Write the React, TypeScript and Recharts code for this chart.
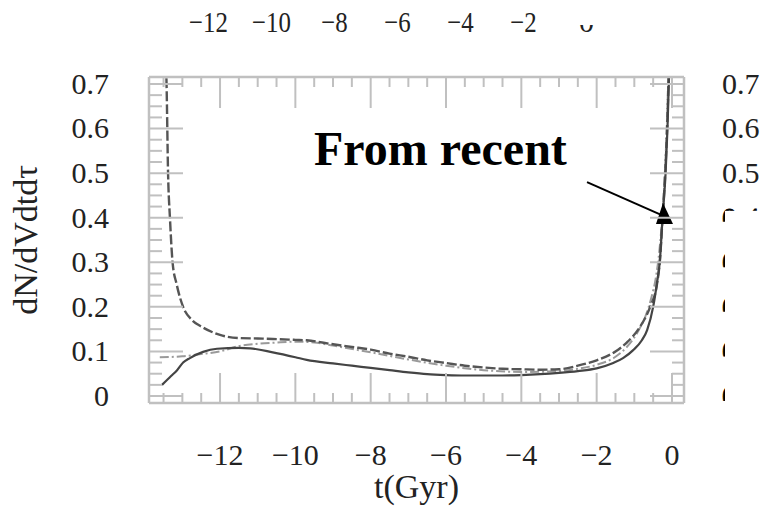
import React from 'react';
import { LineChart, Line, XAxis, YAxis, ReferenceLine, ReferenceDot } from 'recharts';

// ---- data ----
const dashedT = [-13.47, -13.42, -13.38, -13.33, -13.26, -13.15, -12.98, -12.74, -12.48, -12.0, -11.5, -11.0, -10.6, -10.0, -9.7, -9.0, -8.5, -8.0, -7.5, -7.0, -6.5, -6.0, -5.5, -5.0, -4.5, -4.0, -3.5, -3.0, -2.5, -2.0, -1.5, -1.2, -0.85, -0.58, -0.4, -0.32, -0.25, -0.18, -0.13, -0.08];
const dashedV = [0.80, 0.70, 0.50, 0.40, 0.30, 0.25, 0.20, 0.17, 0.155, 0.137, 0.130, 0.129, 0.128, 0.126, 0.125, 0.116, 0.110, 0.104, 0.095, 0.088, 0.080, 0.074, 0.068, 0.064, 0.061, 0.060, 0.059, 0.060, 0.068, 0.080, 0.100, 0.120, 0.155, 0.20, 0.25, 0.305, 0.40, 0.50, 0.60, 0.74];

const solidT = [-13.54, -13.3, -13.14, -12.98, -12.8, -12.45, -12.08, -11.5, -11.2, -10.6, -10.0, -9.7, -9.0, -8.5, -8.0, -7.5, -7.0, -6.5, -6.0, -5.5, -5.0, -4.5, -4.0, -3.5, -3.0, -2.5, -2.0, -1.56, -1.3, -1.03, -0.8, -0.66, -0.5, -0.4, -0.32, -0.25, -0.17, -0.12, -0.07];
const solidV = [0.025, 0.045, 0.058, 0.075, 0.085, 0.099, 0.106, 0.108, 0.107, 0.098, 0.087, 0.081, 0.073, 0.068, 0.063, 0.058, 0.053, 0.049, 0.047, 0.046, 0.046, 0.046, 0.047, 0.049, 0.052, 0.056, 0.062, 0.074, 0.085, 0.103, 0.125, 0.148, 0.20, 0.253, 0.305, 0.40, 0.50, 0.60, 0.74];

const dotT = [-13.6, -13.0, -12.5, -12.0, -11.5, -11.0, -10.5, -10.0, -9.5, -9.0, -8.0, -7.0, -6.0, -5.0, -4.0, -3.0, -2.5, -2.0, -1.5, -1.2, -0.9, -0.7, -0.55, -0.42, -0.33, -0.26, -0.19, -0.14, -0.09];
const dotV = [0.087, 0.089, 0.094, 0.100, 0.112, 0.117, 0.120, 0.122, 0.120, 0.113, 0.098, 0.082, 0.068, 0.058, 0.054, 0.056, 0.061, 0.070, 0.088, 0.110, 0.145, 0.180, 0.220, 0.270, 0.330, 0.400, 0.500, 0.600, 0.740];

const xTicks = [-13.5, -13, -12.5, -12, -11.5, -11, -10.5, -10, -9.5, -9, -8.5, -8, -7.5, -7, -6.5, -6, -5.5, -5, -4.5, -4, -3.5, -3, -2.5, -2, -1.5, -1, -0.5, 0];
const xMajor = [-12, -10, -8, -6, -4, -2, 0];
const xLabels = ['−12', '−10', '−8', '−6', '−4', '−2', '0'];
const topLabelTicks = [-12, -10, -8, -6, -4, -2, 0];
const topLabels = ['−12', '−10', '−8', '−6', '−4', '−2', '0'];

const yTicks = [0, 0.025, 0.05, 0.075, 0.1, 0.125, 0.15, 0.175, 0.2, 0.225, 0.25, 0.275, 0.3, 0.325, 0.35, 0.375, 0.4, 0.425, 0.45, 0.475, 0.5, 0.525, 0.55, 0.575, 0.6, 0.625, 0.65, 0.675, 0.7];
const yMajor = [0, 0.1, 0.2, 0.3, 0.4, 0.5, 0.6, 0.7];
const yLabels = ['0', '0.1', '0.2', '0.3', '0.4', '0.5', '0.6', '0.7'];

const arrowFrom = { t: -2.256, v: 0.48 };
const arrowTo = { t: -0.212, v: 0.4036 };
const noteAt = { t: -9.504, v: 0.518 };
const noteText = 'From recent';

const dashedData = dashedT.map((t, i) => ({ t, v: dashedV[i] }));
const solidData = solidT.map((t, i) => ({ t, v: solidV[i] }));
const dotData = dotT.map((t, i) => ({ t, v: dotV[i] }));

// ---- styles ----
const FRAME = '#c0c0c0';
const FONT = '"Liberation Serif", "Times New Roman", serif';
const TXT = '#222';

const idx = (arr: number[], v: number) => arr.findIndex((m) => Math.abs(m - v) < 1e-6);

const BottomTick = (p: any) => {
  const v = p.payload.value;
  const i = idx(xMajor, v);
  const len = i >= 0 ? 30 : 10;
  return (
    <g>
      <line x1={p.x} x2={p.x} y1={p.y} y2={p.y - len} stroke={FRAME} strokeWidth={2} />
      {i >= 0 && (
        <text x={p.x} y={p.y + 62} textAnchor="middle" fontFamily={FONT} fontSize={30} fill={TXT}>
          {xLabels[i]}
        </text>
      )}
    </g>
  );
};

const TopTick = (p: any) => {
  const v = p.payload.value;
  const i = idx(xMajor, v);
  const len = i >= 0 ? 31 : 10;
  return <line x1={p.x} x2={p.x} y1={77} y2={77 + len} stroke={FRAME} strokeWidth={2} />;
};

const TopLabelTick = (p: any) => {
  const v = p.payload.value;
  const i = idx(topLabelTicks, v);
  if (i < 0) return <g />;
  const isZero = Math.abs(v) < 1e-6;
  const id = `topclip${i}`;
  if (isZero) {
    return (
      <g>
        <defs>
          <clipPath id={id}>
            <rect x={p.x - 15} y={25} width={30} height={12} />
          </clipPath>
        </defs>
        <text x={p.x} y={32} textAnchor="middle" fontFamily={FONT} fontSize={30} fill={TXT} clipPath={`url(#${id})`}>
          {topLabels[i]}
        </text>
      </g>
    );
  }
  return (
    <g transform={`translate(${p.x},32) scale(0.83,1)`}>
      <text x={0} y={0} textAnchor="middle" fontFamily={FONT} fontSize={30} fill={TXT}>
        {topLabels[i]}
      </text>
    </g>
  );
};

const LeftTick = (p: any) => {
  const v = p.payload.value;
  const i = idx(yMajor, v);
  const len = i >= 0 ? 34 : 13;
  return (
    <g>
      <line x1={p.x} x2={p.x + len} y1={p.y} y2={p.y} stroke={FRAME} strokeWidth={2} />
      {i >= 0 && (
        <text x={p.x - 40} y={p.y} dy="0.33em" textAnchor="end" fontFamily={FONT} fontSize={30} fill={TXT}>
          {yLabels[i]}
        </text>
      )}
    </g>
  );
};

const RightTick = (p: any) => {
  const v = p.payload.value;
  const i = idx(yMajor, v);
  const len = i >= 0 ? 34 : 12;
  const tx = p.x + 38;
  let label = null;
  if (i >= 0) {
    if (v >= 0.45) {
      label = (
        <text x={tx} y={p.y} dy="0.33em" textAnchor="start" fontFamily={FONT} fontSize={30} fill={TXT}>
          {yLabels[i]}
        </text>
      );
    } else {
      const id = `rclip${i}`;
      const top = p.y - 11;
      label = (
        <g>
          <defs>
            <clipPath id={id}>
              {v > 0.35 ? (
                <>
                  <rect x={tx - 2} y={top - 2} width={40} height={6} />
                  <rect x={tx - 2} y={top - 2} width={5} height={17} />
                </>
              ) : (
                <rect x={tx - 2} y={top + 1} width={5} height={15} />
              )}
            </clipPath>
          </defs>
          <text x={tx} y={p.y} dy="0.33em" textAnchor="start" fontFamily={FONT} fontSize={30} fill="#000"
            stroke="#000" strokeWidth={0.8} clipPath={`url(#${id})`}>
            {yLabels[i]}
          </text>
        </g>
      );
    }
  }
  return (
    <g>
      <line x1={p.x} x2={p.x - len} y1={p.y} y2={p.y} stroke={FRAME} strokeWidth={2} />
      {label}
    </g>
  );
};

const ArrowShape = (p: any) => {
  const { x1, y1, x2, y2 } = p;
  return (
    <g>
      <line x1={x1} y1={y1} x2={x2} y2={y2} stroke="#000" strokeWidth={2} />
      <polygon points={`${x2 - 1},${y2 - 13} ${x2 - 8},${y2 + 8} ${x2 + 9},${y2 + 8}`} fill="#000" />
    </g>
  );
};

const NoteShape = (p: any) => (
  <text x={p.cx} y={p.cy} textAnchor="start" fontFamily={FONT} fontWeight="bold" fontSize={48} fill="#000">
    {noteText}
  </text>
);

export default function App() {
  return (
    <div style={{ position: 'absolute', left: 0, top: 0, width: 763, height: 512, background: '#fff' }}>
      <LineChart width={763} height={512} margin={{ top: 0, right: 0, bottom: 0, left: 0 }}>
        <XAxis
          xAxisId="bottom"
          type="number"
          dataKey="t"
          domain={[-13.886, 0.319]}
          allowDataOverflow
          ticks={xTicks}
          interval={0}
          tickSize={0}
          tickMargin={0}
          tickLine={false}
          axisLine={{ stroke: FRAME, strokeWidth: 2.5 }}
          tick={BottomTick}
          height={109}
          orientation="bottom"
          label={{
            content: (lp: any) => {
              const vb = lp.viewBox || {};
              return (
                <text x={vb.x + vb.width / 2} y={vb.y + 95} textAnchor="middle" fontFamily={FONT} fontSize={34} fill={TXT}>
                  t(Gyr)
                </text>
              );
            },
          }}
        />
        <XAxis
          xAxisId="top"
          type="number"
          dataKey="t"
          domain={[-13.886, 0.319]}
          allowDataOverflow
          ticks={xTicks}
          interval={0}
          tickSize={0}
          tickMargin={0}
          tickLine={false}
          axisLine={{ stroke: FRAME, strokeWidth: 2.5 }}
          tick={TopTick}
          height={70}
          orientation="top"
        />
        <XAxis
          xAxisId="topLabels"
          type="number"
          dataKey="t"
          domain={[-13.889, 3.095]}
          allowDataOverflow
          ticks={topLabelTicks}
          interval={0}
          tickSize={0}
          tickMargin={0}
          tickLine={false}
          axisLine={false}
          tick={TopLabelTick}
          height={7}
          orientation="top"
        />
        <YAxis
          yAxisId="left"
          type="number"
          domain={[-0.0157, 0.7157]}
          allowDataOverflow
          ticks={yTicks}
          interval={0}
          tickSize={0}
          tickMargin={0}
          tickLine={false}
          axisLine={{ stroke: FRAME, strokeWidth: 2.5 }}
          tick={LeftTick}
          width={149}
          orientation="left"
          label={{
            content: (lp: any) => {
              const vb = lp.viewBox || {};
              const cx = vb.x + 25;
              const cy = vb.y + vb.height / 2;
              return (
                <text x={cx} y={cy} transform={`rotate(-90 ${cx} ${cy})`} dy="0.35em" textAnchor="middle"
                  fontFamily={FONT} fontSize={34} fill={TXT}>
                  dN/dVdtdτ
                </text>
              );
            },
          }}
        />
        <YAxis
          yAxisId="right"
          type="number"
          domain={[-0.0157, 0.7157]}
          allowDataOverflow
          ticks={yTicks}
          interval={0}
          tickSize={0}
          tickMargin={0}
          tickLine={false}
          axisLine={{ stroke: FRAME, strokeWidth: 2.5 }}
          tick={RightTick}
          width={79}
          orientation="right"
        />
        <Line xAxisId="bottom" yAxisId="left" data={dotData} dataKey="v" type="monotone" stroke="#9a9a9a"
          strokeWidth={2} strokeDasharray="9 3 2 3" dot={false} isAnimationActive={false} />
        <Line xAxisId="bottom" yAxisId="left" data={dashedData} dataKey="v" type="monotone" stroke="#555"
          strokeWidth={2.4} strokeDasharray="10 3" dot={false} isAnimationActive={false} />
        <Line xAxisId="bottom" yAxisId="left" data={solidData} dataKey="v" type="monotone" stroke="#444"
          strokeWidth={2.2} dot={false} isAnimationActive={false} />
        <ReferenceLine xAxisId="bottom" yAxisId="left"
          segment={[{ x: arrowFrom.t, y: arrowFrom.v }, { x: arrowTo.t, y: arrowTo.v }]}
          shape={ArrowShape} ifOverflow="visible" />
        <ReferenceDot xAxisId="bottom" yAxisId="left" x={noteAt.t} y={noteAt.v} r={0}
          shape={NoteShape} ifOverflow="visible" />
      </LineChart>
    </div>
  );
}
